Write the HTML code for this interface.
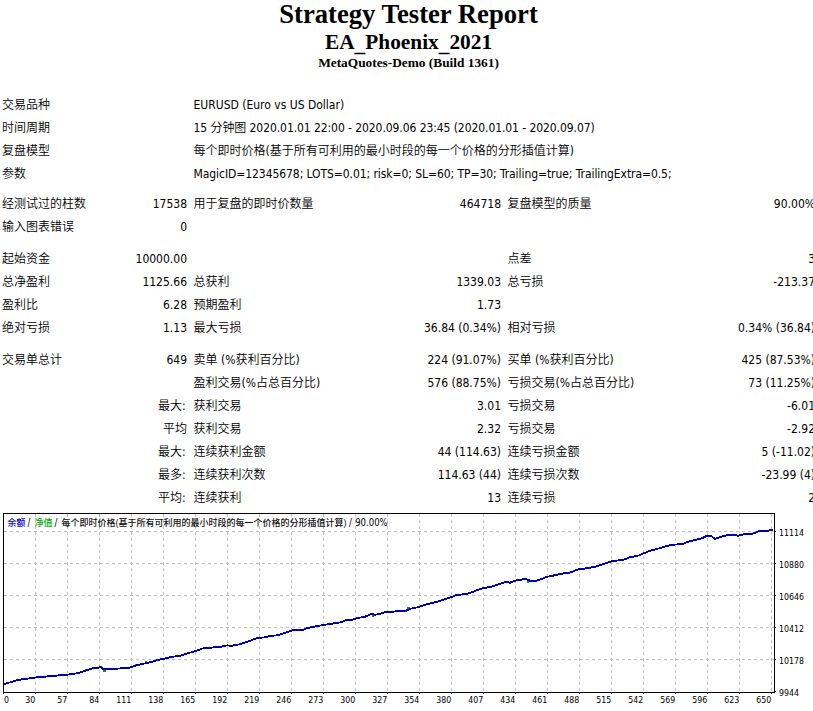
<!DOCTYPE html>
<html lang="zh-CN">
<head>
<meta charset="utf-8">
<title>Strategy Tester: EA_Phoenix_2021</title>
<style>
html,body{margin:0;padding:0;background:#fff;}
body{width:813px;height:711px;overflow:hidden;position:relative;color:#000;}
.hd{position:absolute;left:0;width:817px;text-align:center;font-family:"Liberation Serif","Noto Serif CJK SC",serif;font-weight:bold;white-space:nowrap;}
.h1{top:-1px;font-size:26.67px;line-height:30px;}
.h2{top:29.5px;font-size:21.33px;line-height:25px;}
.h3{top:54.5px;font-size:13.33px;line-height:15px;}
table.rep{position:absolute;left:-2px;top:93px;width:820px;border-collapse:separate;border-spacing:1px;table-layout:fixed;}
table.rep td{font:350 12px/16px "DejaVu Sans Condensed","Liberation Sans","Noto Sans CJK SC",sans-serif;padding:3px;height:16px;white-space:nowrap;text-align:left;vertical-align:middle;overflow:visible;}
table.rep td.r{text-align:right;}
table.rep td.l{padding-left:2.5px;}
table.rep td.c{padding-right:4.5px;}
table.rep tr.gap td{padding:0;height:auto;font-size:0;line-height:0;}
.us{position:relative;top:2.5px;}
.chart{position:absolute;left:3px;top:513px;}
.chart text{font-family:"Liberation Sans","Noto Sans CJK SC",sans-serif;}
.lg text{font-size:9px;font-weight:500;}
.lg text.sl,.lg text.pc{font-family:"DejaVu Sans Condensed","Liberation Sans",sans-serif;font-size:9.6px;font-weight:400;fill:#000;}
.ax text{font-family:"DejaVu Sans Condensed","Liberation Sans",sans-serif;font-size:9.3px;fill:#000;}
</style>
</head>
<body>
<div class="hd h1">Strategy Tester Report</div>
<div class="hd h2">EA<span class="us">_</span>Phoenix<span class="us">_</span>2021</div>
<div class="hd h3">MetaQuotes-Demo (Build 1361)</div>
<table class="rep">
<colgroup><col style="width:126px"><col style="width:64px"><col style="width:200px"><col style="width:112px"><col style="width:200px"><col style="width:112px"></colgroup>
<tr><td colspan="2">交易品种</td><td colspan="4" class="l">EURUSD (Euro vs US Dollar)</td></tr>
<tr><td colspan="2">时间周期</td><td colspan="4" class="l" style="letter-spacing:-0.075px">15 分钟图 2020.01.01 22:00 - 2020.09.06 23:45 (2020.01.01 - 2020.09.07)</td></tr>
<tr><td colspan="2">复盘模型</td><td colspan="4" class="l">每个即时价格(基于所有可利用的最小时段的每一个价格的分形插值计算)</td></tr>
<tr><td colspan="2">参数</td><td colspan="4" class="l" style="letter-spacing:-0.068px">MagicID=12345678; LOTS=0.01; risk=0; SL=60; TP=30; Trailing=true; TrailingExtra=0.5;</td></tr>
<tr class="gap" style="height:6px"><td colspan="6"></td></tr>
<tr><td>经测试过的柱数</td><td class="r">17538</td><td class="l">用于复盘的即时价数量</td><td class="r">464718</td><td class="l">复盘模型的质量</td><td class="r">90.00%</td></tr>
<tr><td>输入图表错误</td><td class="r">0</td><td class="l"></td><td class="r"></td><td class="l"></td><td class="r"></td></tr>
<tr class="gap" style="height:8px"><td colspan="6"></td></tr>
<tr><td>起始资金</td><td class="r">10000.00</td><td class="l"></td><td class="r"></td><td class="l">点差</td><td class="r">3</td></tr>
<tr><td>总净盈利</td><td class="r">1125.66</td><td class="l">总获利</td><td class="r">1339.03</td><td class="l">总亏损</td><td class="r">-213.37</td></tr>
<tr><td>盈利比</td><td class="r">6.28</td><td class="l">预期盈利</td><td class="r">1.73</td><td class="l"></td><td class="r"></td></tr>
<tr><td>绝对亏损</td><td class="r">1.13</td><td class="l">最大亏损</td><td class="r">36.84 (0.34%)</td><td class="l">相对亏损</td><td class="r">0.34% (36.84)</td></tr>
<tr class="gap" style="height:8px"><td colspan="6"></td></tr>
<tr><td>交易单总计</td><td class="r">649</td><td class="l">卖单 (%获利百分比)</td><td class="r">224 (91.07%)</td><td class="l">买单 (%获利百分比)</td><td class="r">425 (87.53%)</td></tr>
<tr><td></td><td class="r"></td><td class="l">盈利交易(%占总百分比)</td><td class="r">576 (88.75%)</td><td class="l">亏损交易(%占总百分比)</td><td class="r">73 (11.25%)</td></tr>
<tr><td></td><td class="r c">最大:</td><td class="l">获利交易</td><td class="r">3.01</td><td class="l">亏损交易</td><td class="r">-6.01</td></tr>
<tr><td></td><td class="r">平均</td><td class="l">获利交易</td><td class="r">2.32</td><td class="l">亏损交易</td><td class="r">-2.92</td></tr>
<tr><td></td><td class="r c">最大:</td><td class="l">连续获利金额</td><td class="r">44 (114.63)</td><td class="l">连续亏损金额</td><td class="r">5 (-11.02)</td></tr>
<tr><td></td><td class="r c">最多:</td><td class="l">连续获利次数</td><td class="r">114.63 (44)</td><td class="l">连续亏损次数</td><td class="r">-23.99 (4)</td></tr>
<tr><td></td><td class="r c">平均:</td><td class="l">连续获利</td><td class="r">13</td><td class="l">连续亏损</td><td class="r">2</td></tr>
</table>
<svg class="chart" width="820" height="200" viewBox="0 0 820 200">
<rect x="0.5" y="0.5" width="771" height="179" fill="#fff" stroke="#000" shape-rendering="crispEdges"/>
<path d="M32.5 1V179M64.5 1V179M96.5 1V179M128.5 1V179M160.5 1V179M192.5 1V179M224.5 1V179M256.5 1V179M288.5 1V179M320.5 1V179M352.5 1V179M384.5 1V179M416.5 1V179M448.5 1V179M480.5 1V179M512.5 1V179M544.5 1V179M576.5 1V179M608.5 1V179M640.5 1V179M672.5 1V179M704.5 1V179M736.5 1V179M768.5 1V179" stroke="#c0c0c0" stroke-dasharray="3 3" fill="none" shape-rendering="crispEdges"/>
<path d="M1 18.5H771M1 50.5H771M1 82.5H771M1 114.5H771M1 146.5H771" stroke="#c0c0c0" stroke-dasharray="3 3" fill="none" shape-rendering="crispEdges"/>
<path d="M0.5 180v1M32.5 180v1M64.5 180v1M96.5 180v1M128.5 180v1M160.5 180v1M192.5 180v1M224.5 180v1M256.5 180v1M288.5 180v1M320.5 180v1M352.5 180v1M384.5 180v1M416.5 180v1M448.5 180v1M480.5 180v1M512.5 180v1M544.5 180v1M576.5 180v1M608.5 180v1M640.5 180v1M672.5 180v1M704.5 180v1M736.5 180v1M768.5 180v1M772 18.5h1M772 50.5h1M772 82.5h1M772 114.5h1M772 146.5h1M772 178.5h1" stroke="#000" fill="none" shape-rendering="crispEdges"/>
<g class="lg"><text x="4.4" y="12.6" fill="#0000d0" textLength="18">余额</text><text class="sl" x="24.6" y="12.8">/</text><text x="31.4" y="12.6" fill="#00a800" textLength="18">净值</text><text class="sl" x="51.4" y="12.8">/</text><text x="58.4" y="12.6" fill="#111" textLength="285">每个即时价格(基于所有可利用的最小时段的每一个价格的分形插值计算)</text><text class="sl" x="346" y="12.8">/</text><text class="pc" x="352.2" y="12.8" textLength="32.5" lengthAdjust="spacingAndGlyphs">90.00%</text></g>
<g fill="#00a000" shape-rendering="crispEdges"><rect x="81.6" y="155.6" width="2.5" height="2" /><rect x="100.0" y="156.6" width="2.5" height="2" /><rect x="131.8" y="150.6" width="2.5" height="2" /><rect x="141.7" y="148.2" width="2.5" height="2" /><rect x="312.7" y="111.9" width="2.5" height="2" /><rect x="368.8" y="101.8" width="2.5" height="2" /><rect x="377.7" y="99.0" width="2.5" height="2" /><rect x="397.4" y="97.2" width="2.5" height="2" /><rect x="404.3" y="94.4" width="2.5" height="2" /><rect x="523.8" y="68.2" width="2.5" height="2" /><rect x="549.9" y="60.9" width="2.5" height="2" /><rect x="680.6" y="28.6" width="2.5" height="2" /><rect x="690.5" y="25.5" width="2.5" height="2" /><rect x="700.3" y="22.6" width="2.5" height="2" /><rect x="713.0" y="23.8" width="2.5" height="2" /></g>
<polyline points="1.0,171.2 14.7,167.0 32.4,164.5 48.0,163.1 64.0,161.7 75.7,160.1 83.6,157.2 91.5,154.8 96.0,154.6 97.6,153.6 100.3,156.0 115.0,155.6 127.0,154.6 134.8,151.9 146.6,149.4 154.9,146.9 160.8,145.9 168.7,143.9 176.5,142.9 184.4,140.4 192.7,138.0 199.2,135.5 208.0,134.7 217.9,133.7 224.4,132.3 227.7,132.9 235.6,131.5 245.4,128.4 254.3,125.0 261.2,124.4 269.0,122.7 275.0,122.3 282.8,119.5 290.7,117.0 300.5,116.7 304.9,114.9 312.7,113.3 320.6,112.0 330.5,110.4 338.3,109.2 343.3,106.8 350.1,106.6 354.1,105.1 362.0,103.7 368.9,100.9 371.8,101.9 377.7,100.5 383.6,98.6 389.5,98.8 397.4,97.8 403.3,97.6 407.2,95.8 415.1,94.2 423.0,91.5 430.9,89.5 438.7,87.4 446.6,84.6 452.9,82.3 464.7,80.7 472.6,77.8 480.5,75.0 488.3,73.9 496.2,71.1 504.1,68.7 507.0,69.7 512.0,67.7 519.8,66.4 523.8,66.4 527.7,68.0 533.6,67.7 537.6,66.4 543.5,63.8 549.4,63.0 557.2,60.9 567.0,59.5 575.0,56.5 584.8,55.1 594.6,53.2 600.5,51.0 608.8,48.2 620.6,46.8 626.5,44.4 636.4,42.3 646.2,37.9 656.0,35.4 663.9,33.0 669.8,31.8 679.7,30.9 685.6,28.5 691.5,27.1 699.4,25.1 704.3,22.6 707.5,22.6 712.2,25.9 717.0,24.0 725.0,22.1 732.8,21.8 734.6,22.9 740.5,21.4 747.0,21.3 750.5,20.3 755.0,18.6 758.0,17.8 765.3,17.8 767.5,17.0 770.0,17.0" fill="none" stroke="#0000b0" stroke-width="1.9" stroke-linejoin="round" shape-rendering="crispEdges"/>
<g class="ax"><text x="22.200000000000003" y="190" textLength="10" lengthAdjust="spacingAndGlyphs">30</text><text x="54.2" y="190" textLength="10" lengthAdjust="spacingAndGlyphs">57</text><text x="86.2" y="190" textLength="10" lengthAdjust="spacingAndGlyphs">84</text><text x="113.19999999999999" y="190" textLength="15" lengthAdjust="spacingAndGlyphs">111</text><text x="145.2" y="190" textLength="15" lengthAdjust="spacingAndGlyphs">138</text><text x="177.2" y="190" textLength="15" lengthAdjust="spacingAndGlyphs">165</text><text x="209.2" y="190" textLength="15" lengthAdjust="spacingAndGlyphs">192</text><text x="241.2" y="190" textLength="15" lengthAdjust="spacingAndGlyphs">219</text><text x="273.2" y="190" textLength="15" lengthAdjust="spacingAndGlyphs">246</text><text x="305.2" y="190" textLength="15" lengthAdjust="spacingAndGlyphs">273</text><text x="337.2" y="190" textLength="15" lengthAdjust="spacingAndGlyphs">300</text><text x="369.2" y="190" textLength="15" lengthAdjust="spacingAndGlyphs">327</text><text x="401.2" y="190" textLength="15" lengthAdjust="spacingAndGlyphs">354</text><text x="433.2" y="190" textLength="15" lengthAdjust="spacingAndGlyphs">380</text><text x="465.2" y="190" textLength="15" lengthAdjust="spacingAndGlyphs">407</text><text x="497.20000000000005" y="190" textLength="15" lengthAdjust="spacingAndGlyphs">434</text><text x="529.2" y="190" textLength="15" lengthAdjust="spacingAndGlyphs">461</text><text x="561.2" y="190" textLength="15" lengthAdjust="spacingAndGlyphs">488</text><text x="593.2" y="190" textLength="15" lengthAdjust="spacingAndGlyphs">515</text><text x="625.2" y="190" textLength="15" lengthAdjust="spacingAndGlyphs">542</text><text x="657.2" y="190" textLength="15" lengthAdjust="spacingAndGlyphs">569</text><text x="689.2" y="190" textLength="15" lengthAdjust="spacingAndGlyphs">596</text><text x="721.2" y="190" textLength="15" lengthAdjust="spacingAndGlyphs">623</text><text x="753.2" y="190" textLength="15" lengthAdjust="spacingAndGlyphs">650</text><text x="1" y="190" textLength="5" lengthAdjust="spacingAndGlyphs">0</text><text x="776" y="23" textLength="25" lengthAdjust="spacingAndGlyphs">11114</text><text x="776" y="55" textLength="25" lengthAdjust="spacingAndGlyphs">10880</text><text x="776" y="87" textLength="25" lengthAdjust="spacingAndGlyphs">10646</text><text x="776" y="119" textLength="25" lengthAdjust="spacingAndGlyphs">10412</text><text x="776" y="151" textLength="25" lengthAdjust="spacingAndGlyphs">10178</text><text x="776" y="183" textLength="20" lengthAdjust="spacingAndGlyphs">9944</text></g>
</svg>
</body>
</html>
